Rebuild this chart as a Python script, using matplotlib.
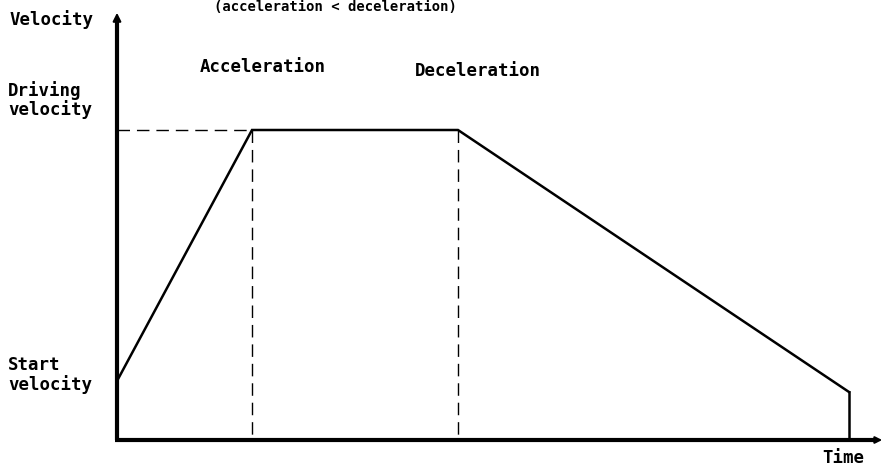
import matplotlib
matplotlib.use("Agg")
import matplotlib.pyplot as plt

# Velocity profile (time in arbitrary units, velocity in arbitrary units)
times = [0.0, 1.35, 3.41, 7.32]
velocities = [0.59, 3.10, 3.10, 0.48]
end_time = 7.32

axis_labels = ["Velocity", "Time"]
level_labels = ["Driving\nvelocity", "Start\nvelocity"]
phase_labels = ["Acceleration", "Deceleration"]
note = "(acceleration < deceleration)"

fig = plt.figure(figsize=(8.94, 4.69), dpi=100)
ax = fig.add_axes([0, 0, 1, 1])
ax.set_xlim(-1.17, 7.77)
ax.set_ylim(-0.29, 4.40)
ax.axis("off")

font = dict(family="DejaVu Sans Mono", fontweight="bold", fontsize=12.5, color="black")

# axes with arrows
ax.plot([0, 0], [0, 4.22], color="black", lw=3.0, solid_capstyle="butt")
ax.annotate("", xy=(0, 4.30), xytext=(0, 4.12),
            arrowprops=dict(arrowstyle="-|>", color="black", lw=1.5, mutation_scale=12))
ax.plot([-0.02, 7.60], [0, 0], color="black", lw=3.0, solid_capstyle="butt")
ax.annotate("", xy=(7.68, 0), xytext=(7.55, 0),
            arrowprops=dict(arrowstyle="-|>", color="black", lw=1.5, mutation_scale=10))

# velocity profile
ax.plot(times, velocities, color="black", lw=1.8, solid_joinstyle="miter")
ax.plot([end_time, end_time], [velocities[-1], 0], color="black", lw=1.8)

# dashed guides
dash = dict(color="black", lw=1.0, dashes=(9, 5))
ax.plot([0, times[1]], [velocities[1], velocities[1]], **dash)
ax.plot([times[1], times[1]], [velocities[1], 0.05], **dash)
ax.plot([times[2], times[2]], [velocities[2], 0.05], **dash)

# texts
ax.text(-1.07, 4.20, axis_labels[0], ha="left", va="center", **font)
ax.text(7.05, -0.18, axis_labels[1], ha="left", va="center", **font)
ax.text(-1.09, 3.40, level_labels[0], ha="left", va="center", linespacing=1.05, **font)
ax.text(-1.09, 0.65, level_labels[1], ha="left", va="center", linespacing=1.05, **font)
ax.text(0.83, 3.73, phase_labels[0], ha="left", va="center", **font)
ax.text(2.98, 3.69, phase_labels[1], ha="left", va="center", **font)
ax.text(2.18, 4.40, note, ha="center", va="top", fontsize=10,
        family="DejaVu Sans Mono", fontweight="bold", color="black")

fig.savefig("out.png", dpi=100)
